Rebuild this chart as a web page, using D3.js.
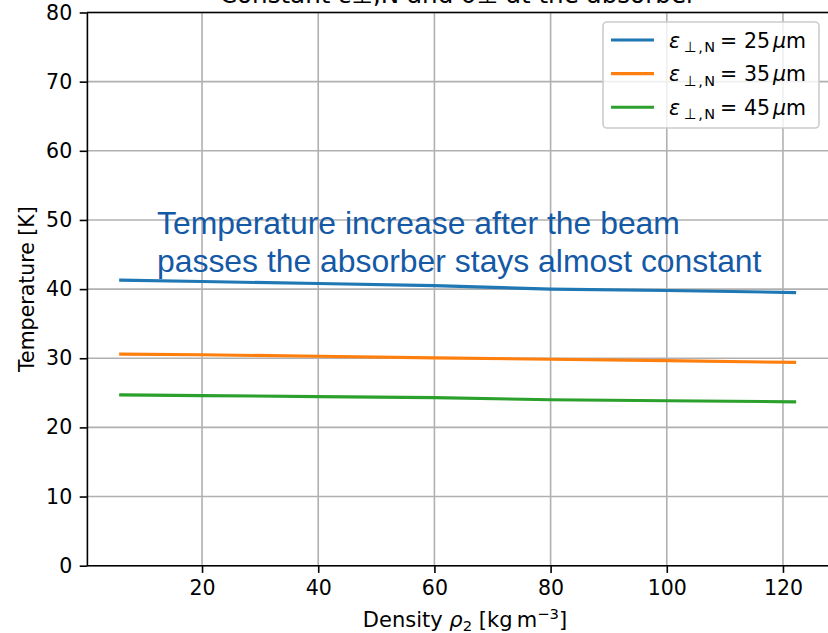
<!DOCTYPE html>
<html>
<head>
<meta charset="utf-8">
<script src="https://cdn.jsdelivr.net/npm/d3@7"></script>
<style>
  body { margin: 0; background: #fff; }
  svg { display: block; }
</style>
</head>
<body>
<div class="chart"></div>
<script>

//data

const density = [6, 20, 40, 60, 80, 100, 122];
const temp25 = [41.3, 41.1, 40.8, 40.5, 40.0, 39.8, 39.5];
const temp35 = [30.6, 30.5, 30.3, 30.05, 29.85, 29.65, 29.4];
const temp45 = [24.7, 24.6, 24.45, 24.3, 24.0, 23.85, 23.7];
const emittances = ['25', '35', '45'];
const xTicks = [20, 40, 60, 80, 100, 120];
const yTicks = [0, 10, 20, 30, 40, 50, 60, 70, 80];

const series = [
  {label: emittances[0], values: temp25, color: '#1f77b4'},
  {label: emittances[1], values: temp35, color: '#ff7f0e'},
  {label: emittances[2], values: temp45, color: '#2ca02c'}
];

//sizes

const W = 828, H = 633;
const fs = 20.5;

//scales

const xScale = d3.scaleLinear()
  .domain([0.18, 128.2])
  .range([86.9, 830.6]);

const yScale = d3.scaleLinear()
  .domain([0, 80])
  .range([565.7, 12.5]);

const svg = d3.select('.chart')
  .append('svg')
  .attr('width', W)
  .attr('height', H)
  .style('font-family', 'DejaVu Sans');

//title (cut off at the top in the reference)
svg.append('text')
  .attr('x', 458)
  .attr('y', 2.5)
  .attr('text-anchor', 'middle')
  .style('font-size', '24.6px')
  .text('Constant ε⊥,N and σ⊥ at the absorber');

//grid
const grid = svg.append('g');
grid.selectAll('.gx')
  .data(xTicks)
  .enter()
  .append('line')
  .attr('x1', d => xScale(d)).attr('x2', d => xScale(d))
  .attr('y1', yScale(0)).attr('y2', yScale(80))
  .attr('stroke', '#b0b0b0').attr('stroke-width', 1.6);
grid.selectAll('.gy')
  .data(yTicks)
  .enter()
  .append('line')
  .attr('x1', xScale.range()[0]).attr('x2', W)
  .attr('y1', d => yScale(d)).attr('y2', d => yScale(d))
  .attr('stroke', '#b0b0b0').attr('stroke-width', 1.6);

//annotation
const note = svg.append('text')
  .attr('x', 157)
  .style('font-family', 'Liberation Sans')
  .style('font-size', '31.9px')
  .attr('fill', '#1459a6');
note.append('tspan').attr('x', 157).attr('y', 234).text('Temperature increase after the beam');
note.append('tspan').attr('x', 157).attr('y', 272).text('passes the absorber stays almost constant');

//lines
const line = d3.line()
  .x((d, i) => xScale(density[i]))
  .y(d => yScale(d));

svg.selectAll('.series')
  .data(series)
  .enter()
  .append('path')
  .attr('d', d => line(d.values))
  .attr('fill', 'none')
  .attr('stroke', d => d.color)
  .attr('stroke-width', 3.1)
  .attr('stroke-linecap', 'square');

//axes
const xAxis = svg.append('g')
  .attr('transform', `translate(0, ${yScale(0)})`)
  .call(d3.axisBottom(xScale).tickValues(xTicks).tickSize(7.2).tickPadding(7.5).tickSizeOuter(0));
const yAxis = svg.append('g')
  .attr('transform', `translate(${xScale.range()[0]}, 0)`)
  .call(d3.axisLeft(yScale).tickValues(yTicks).tickSize(7.2).tickPadding(7.5).tickSizeOuter(0));

[xAxis, yAxis].forEach(a => {
  a.select('.domain').attr('stroke', '#000').attr('stroke-width', 1.6);
  a.selectAll('.tick line').attr('stroke', '#000').attr('stroke-width', 1.6);
  a.selectAll('.tick text')
    .attr('fill', '#000')
    .style('font-family', 'DejaVu Sans')
    .style('font-size', fs + 'px');
});
xAxis.select('.domain').attr('d', `M${xScale.range()[0]},0H${W}`);

//top spine
svg.append('line')
  .attr('x1', xScale.range()[0]).attr('x2', W)
  .attr('y1', yScale(80)).attr('y2', yScale(80))
  .attr('stroke', '#000').attr('stroke-width', 1.6);

//axis labels
const xl = svg.append('text')
  .attr('x', 465)
  .attr('y', 627)
  .attr('text-anchor', 'middle')
  .style('font-size', '21px');
xl.append('tspan').text('Density ');
xl.append('tspan').style('font-style', 'italic').text('ρ');
xl.append('tspan').attr('dy', 4).style('font-size', '14.8px').text('2');
xl.append('tspan').attr('dy', -4).text(' [kg\u2009m');
xl.append('tspan').attr('dy', -8).style('font-size', '14.8px').text('−3');
xl.append('tspan').attr('dy', 8).text(']');

svg.append('text')
  .attr('transform', `translate(34, ${yScale(40)}) rotate(-90)`)
  .attr('text-anchor', 'middle')
  .style('font-size', fs + 'px')
  .text('Temperature [K]');

//legend
const legend = svg.append('g');
legend.append('rect')
  .attr('x', 603).attr('y', 22)
  .attr('width', 216).attr('height', 106)
  .attr('rx', 4)
  .attr('fill', 'rgba(255,255,255,0.8)')
  .attr('stroke', '#cccccc').attr('stroke-width', 1.6);

const items = legend.selectAll('.item')
  .data(series)
  .enter()
  .append('g')
  .attr('transform', (d, i) => `translate(0, ${40 + i * 33.6})`);
items.append('line')
  .attr('x1', 611).attr('x2', 654)
  .attr('stroke', d => d.color).attr('stroke-width', 3.1);
const lt = items.append('text')
  .attr('y', 7.5)
  .style('font-size', fs + 'px');
lt.append('tspan').attr('x', 669).style('font-style', 'italic').text('ε');
lt.append('tspan').attr('x', 684).attr('dy', 4.5).style('font-size', '14.5px').style('letter-spacing', '1.5px').text('⊥,N');
lt.append('tspan').attr('x', 720).attr('dy', -4.5).text('=');
lt.append('tspan').attr('x', 744).text(d => d.label);
lt.append('tspan').attr('x', 773).style('font-style', 'italic').text('μ');
lt.append('tspan').text('m');

</script>
</body>
</html>
